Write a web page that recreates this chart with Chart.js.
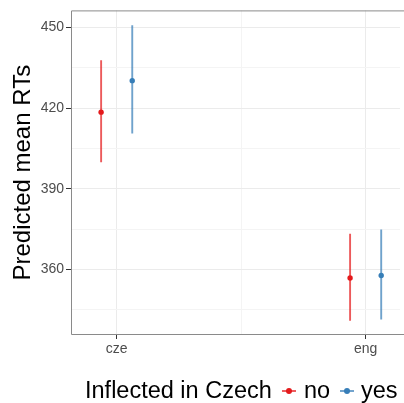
<!DOCTYPE html>
<html>
<head>
<meta charset="utf-8">
<script src="https://cdn.jsdelivr.net/npm/chart.js@4"></script>
<style>
  html, body { margin: 0; padding: 0; background: #fff; overflow: hidden; }
  #wrap { position: relative; width: 404px; height: 403px; }
  #legend {
    position: absolute; left: 0; top: 377px; width: 404px; height: 30px;
    font-family: "Liberation Sans", Arial, sans-serif; font-size: 23.5px; color: #000;
    white-space: nowrap;
  }
  #legend span { position: absolute; top: 0; }
  .key { width: 14px; height: 30px; }
  .key i { position: absolute; left: 0; top: 13px; width: 14px; height: 2px; }
  .key b { position: absolute; left: 4px; top: 11px; width: 6px; height: 6px; border-radius: 3px; }
</style>
</head>
<body>
<div id="wrap">
  <canvas id="myGraph" width="404" height="403"></canvas>
  <div id="legend">
    <span style="left:85px">Inflected in Czech</span>
    <span class="key" style="left:282px"><i style="background:rgba(228,26,28,0.7)"></i><b style="background:#e41a1c"></b></span>
    <span style="left:304px">no</span>
    <span class="key" style="left:340px"><i style="background:rgba(55,126,184,0.7)"></i><b style="background:#377eb8"></b></span>
    <span style="left:361px">yes</span>
  </div>
</div>
<script>
const categories = ["cze", "eng"];
const groups = ["no", "yes"];
const meanNo = [418.5, 356.9];
const lowNo = [399.9, 341.0];
const highNo = [437.8, 373.3];
const meanYes = [430.2, 357.8];
const lowYes = [410.6, 341.5];
const highYes = [450.8, 374.9];
const yTicks = [360, 390, 420, 450];

const red = "#e41a1c", blue = "#377eb8";
const dodge = 0.0625;

function bars(lo, hi, off, color) {
   return categories.map((c, i) => ({
      type: "line",
      data: [{ x: i + 1 + off, y: lo[i] }, { x: i + 1 + off, y: hi[i] }],
      borderColor: color,
      borderWidth: 1.9,
      pointRadius: 0
   }));
}
function points(m, off, color, label) {
   return {
      type: "scatter",
      label: label,
      data: categories.map((c, i) => ({ x: i + 1 + off, y: m[i] })),
      backgroundColor: color,
      borderColor: color,
      pointRadius: 2.7,
      borderWidth: 0
   };
}

// panel frame like theme_bw (right side falls off the picture)
const panelBorder = {
   id: "panelBorder",
   afterDraw(chart) {
      const a = chart.chartArea, ctx = chart.ctx;
      ctx.save();
      ctx.strokeStyle = "#8a8a8a";
      ctx.lineWidth = 1;
      ctx.beginPath();
      ctx.moveTo(a.right + 10, a.top + 0.5);
      ctx.lineTo(a.left + 0.5, a.top + 0.5);
      ctx.lineTo(a.left + 0.5, a.bottom - 0.5);
      ctx.lineTo(a.right + 10, a.bottom - 0.5);
      ctx.stroke();
      ctx.restore();
   }
};

const canvas = document.querySelector("#myGraph").getContext("2d");
let chart = new Chart(canvas, {
   data: {
      datasets: [
         ...bars(lowNo, highNo, -dodge, "rgba(228,26,28,0.72)"),
         ...bars(lowYes, highYes, dodge, "rgba(55,126,184,0.72)"),
         points(meanNo, -dodge, red, groups[0]),
         points(meanYes, dodge, blue, groups[1])
      ]
   },
   plugins: [panelBorder],
   options: {
      responsive: false,
      animation: false,
      layout: { padding: { top: 9, right: 0, left: 0, bottom: 0 } },
      plugins: { legend: { display: false }, tooltip: { enabled: false } },
      scales: {
         x: {
            type: "linear",
            min: 0.8165,
            max: 2.138,
            afterBuildTicks: s => { s.ticks = [{ value: 1 }, { value: 1.5 }, { value: 2 }]; },
            afterFit: s => { s.height = 68; },
            grid: {
               color: c => c.tick && c.tick.value === 1.5 ? "#f4f4f4" : "#ebebeb",
               tickColor: c => c.tick && c.tick.value === 1.5 ? "rgba(0,0,0,0)" : "#333",
               tickLength: 4
            },
            border: { display: false },
            ticks: {
               color: "#4d4d4d",
               font: { family: "Liberation Sans, Arial", size: 14 },
               padding: 2,
               maxRotation: 0,
               callback: v => v === 1 ? categories[0] : v === 2 ? categories[1] : ""
            }
         },
         y: {
            type: "linear",
            min: 335.7,
            max: 456.3,
            afterBuildTicks: s => {
               s.ticks = [345, 360, 375, 390, 405, 420, 435, 450].map(v => ({ value: v }));
            },
            afterFit: s => { s.width = 71; },
            grid: {
               color: c => c.tick && yTicks.includes(c.tick.value) ? "#ebebeb" : "#f4f4f4",
               tickColor: c => c.tick && yTicks.includes(c.tick.value) ? "#333" : "rgba(0,0,0,0)",
               tickLength: 5
            },
            border: { display: false },
            ticks: {
               color: "#4d4d4d",
               font: { family: "Liberation Sans, Arial", size: 14 },
               padding: 2,
               callback: v => yTicks.includes(v) ? String(v) : ""
            },
            title: {
               display: true,
               text: "Predicted mean RTs",
               color: "#000",
               font: { family: "Liberation Sans, Arial", size: 24 },
               padding: { top: 9, bottom: 0 }
            }
         }
      }
   }
});
</script>
</body>
</html>
